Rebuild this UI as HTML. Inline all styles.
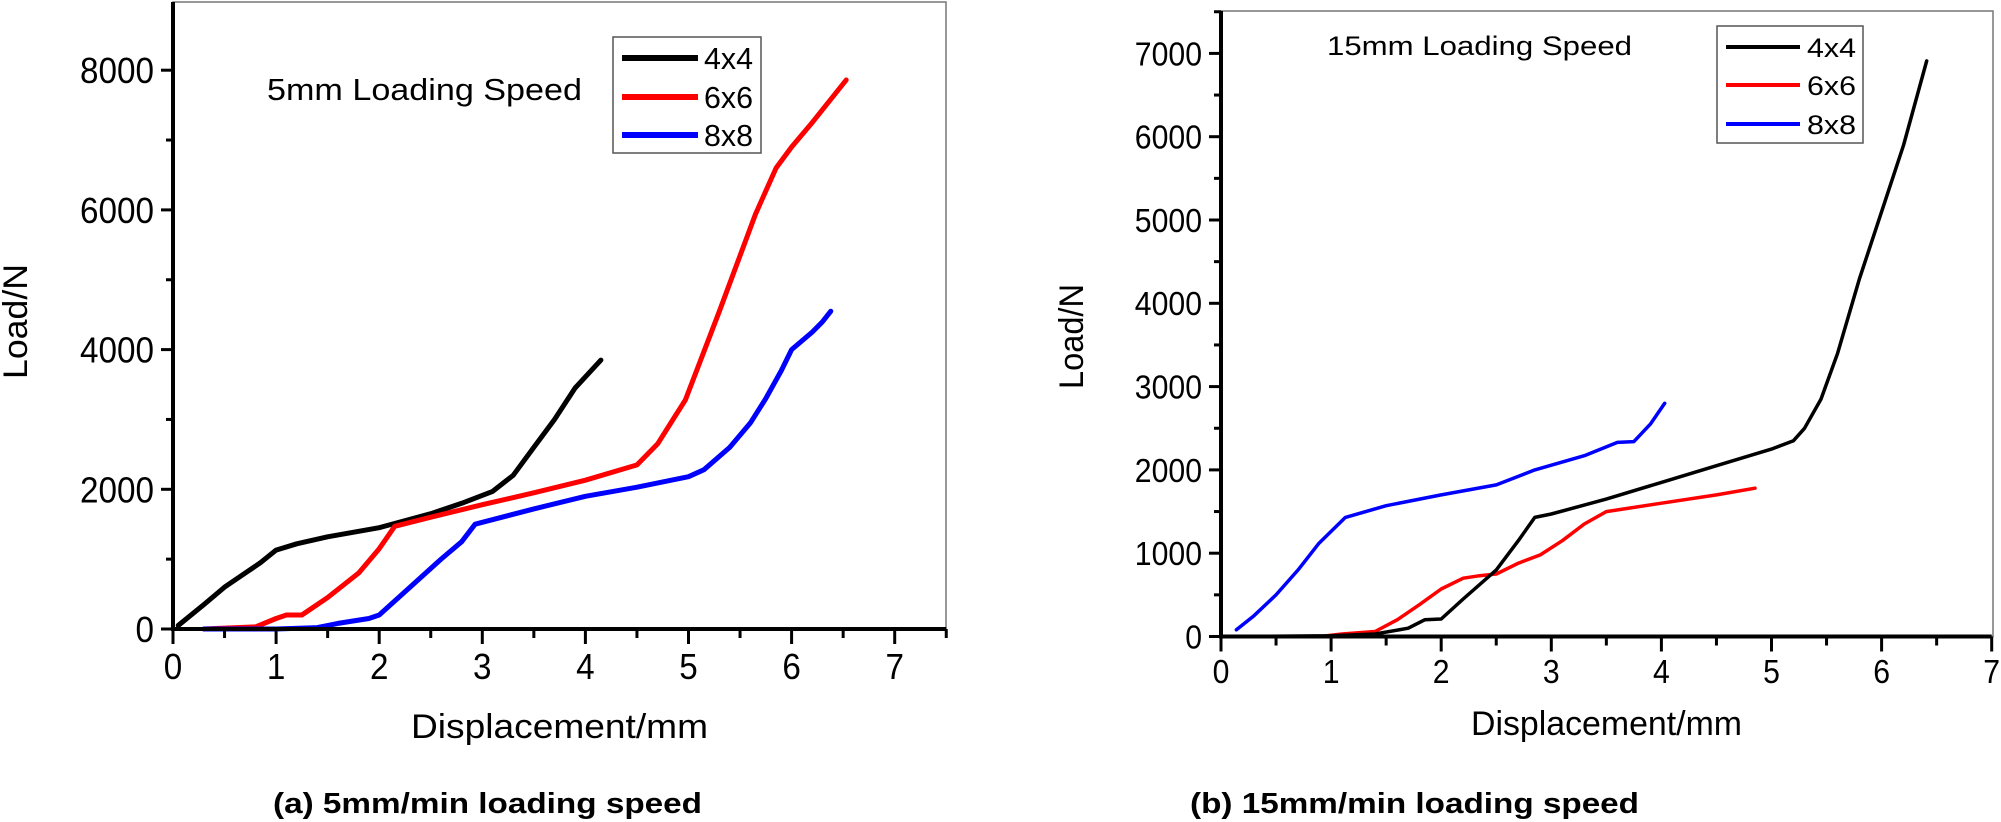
<!DOCTYPE html>
<html><head><meta charset="utf-8">
<style>
html,body{margin:0;padding:0;background:#fff;}
svg{display:block;font-family:"Liberation Sans",sans-serif;}
</style></head>
<body>
<svg id="s" width="2001" height="822" viewBox="0 0 2001 822" xmlns="http://www.w3.org/2000/svg">
<rect width="2001" height="822" fill="#fff"/>
<rect x="173" y="2" width="773" height="627" fill="none" stroke="#777" stroke-width="1.5"/>
<rect x="1221" y="11" width="772" height="625.5" fill="none" stroke="#777" stroke-width="1.5"/>
<g id="g"></g>
<rect x="613" y="37" width="148" height="116" fill="#fff" stroke="#555" stroke-width="1.5"/>
<line x1="622" y1="58" x2="698" y2="58" stroke="#000" stroke-width="6"/>
<line x1="622" y1="97" x2="698" y2="97" stroke="#f00" stroke-width="6"/>
<line x1="622" y1="135" x2="698" y2="135" stroke="#00f" stroke-width="6"/>
<g font-size="31">
<text x="704" y="69" textLength="49" lengthAdjust="spacingAndGlyphs">4x4</text>
<text x="704" y="108" textLength="49" lengthAdjust="spacingAndGlyphs">6x6</text>
<text x="704" y="146" textLength="49" lengthAdjust="spacingAndGlyphs">8x8</text>
<text x="267" y="100" textLength="315" lengthAdjust="spacingAndGlyphs">5mm Loading Speed</text>
</g>
<rect x="1717" y="26" width="146" height="117" fill="#fff" stroke="#555" stroke-width="1.5"/>
<line x1="1726" y1="47" x2="1800" y2="47" stroke="#000" stroke-width="4"/>
<line x1="1726" y1="85" x2="1800" y2="85" stroke="#f00" stroke-width="4"/>
<line x1="1726" y1="124" x2="1800" y2="124" stroke="#00f" stroke-width="4"/>
<g font-size="27">
<text x="1807" y="57" textLength="49" lengthAdjust="spacingAndGlyphs">4x4</text>
<text x="1807" y="95" textLength="49" lengthAdjust="spacingAndGlyphs">6x6</text>
<text x="1807" y="134" textLength="49" lengthAdjust="spacingAndGlyphs">8x8</text>
<text x="1327" y="55" textLength="305" lengthAdjust="spacingAndGlyphs">15mm Loading Speed</text>
</g>
<text x="411" y="738" font-size="34" textLength="297" lengthAdjust="spacingAndGlyphs">Displacement/mm</text>
<text x="1471" y="735" font-size="34" textLength="271" lengthAdjust="spacingAndGlyphs">Displacement/mm</text>
<text transform="translate(27,379) rotate(-90)" font-size="34" textLength="115" lengthAdjust="spacingAndGlyphs">Load/N</text>
<text transform="translate(1083,389) rotate(-90)" font-size="34" textLength="105" lengthAdjust="spacingAndGlyphs">Load/N</text>
<text x="273" y="813" font-size="29" font-weight="bold" textLength="429" lengthAdjust="spacingAndGlyphs">(a) 5mm/min loading speed</text>
<text x="1190" y="813" font-size="29" font-weight="bold" textLength="449" lengthAdjust="spacingAndGlyphs">(b) 15mm/min loading speed</text>
</svg>
<script>
const NS="http://www.w3.org/2000/svg",g=document.getElementById('g');
function el(t,a,txt){const e=document.createElementNS(NS,t);for(const k in a)e.setAttribute(k,a[k]);if(txt!==undefined)e.textContent=txt;g.appendChild(e);return e;}
function chart(c){
 const X=v=>c.x0+v*c.sx, Y=v=>c.y0-v*c.sy;
 c.series.forEach(s=>{el('path',{d:'M'+s.p.map(p=>X(p[0]).toFixed(1)+','+Y(p[1]).toFixed(1)).join('L'),fill:'none',stroke:s.c,'stroke-width':c.lw,'stroke-linejoin':'round','stroke-linecap':'round'});});
 el('line',{x1:c.x0,y1:c.y0,x2:X(c.xmax),y2:c.y0,stroke:'#000','stroke-width':4});
 el('line',{x1:c.x0,y1:c.y0+2,x2:c.x0,y2:c.ytop,stroke:'#000','stroke-width':4});
 for(let v=0;v<=c.xmax+1e-6;v+=0.5){const maj=Math.abs(v-Math.round(v))<1e-6;
  el('line',{x1:X(v),y1:c.y0,x2:X(v),y2:c.y0+(maj?15:9),stroke:'#000','stroke-width':3});
  if(maj&&v<=7)el('text',{x:X(v)-c.dw/2,y:c.xb,'font-size':c.fs,textLength:c.dw,lengthAdjust:'spacingAndGlyphs'},String(Math.round(v)));}
 for(let v=0;Y(v)>=c.ytop-1;v+=c.ystep/2){const maj=(Math.round(v/(c.ystep/2))%2)==0;
  el('line',{x1:c.x0,y1:Y(v),x2:c.x0-(maj?12:7),y2:Y(v),stroke:'#000','stroke-width':3});
  if(maj){const s=String(v),w=c.dw*s.length;el('text',{x:c.x0-19-w,y:Y(v)+c.fs*0.36,'font-size':c.fs,textLength:w,lengthAdjust:'spacingAndGlyphs'},s);}}
}
chart({x0:173,sx:103.1,y0:629,sy:0.06985,xmax:7.5,ytop:2,ystep:2000,lw:5,fs:36,dw:18.5,xb:679,series:[
 {c:'#000',p:[[0.05,50],[0.3,350],[0.5,600],[0.7,800],[0.85,950],[1.0,1130],[1.2,1220],[1.5,1320],[2.0,1450],[2.5,1650],[2.8,1800],[3.1,1970],[3.3,2200],[3.5,2600],[3.7,3000],[3.9,3450],[4.15,3850]]},
 {c:'#f00',p:[[0.3,0],[0.8,30],[1.0,150],[1.1,200],[1.25,200],[1.5,450],[1.8,800],[2.0,1150],[2.15,1470],[2.5,1600],[3,1780],[3.5,1950],[4,2130],[4.5,2350],[4.7,2650],[4.85,3000],[4.97,3280],[5.3,4550],[5.65,5940],[5.85,6600],[6.0,6900],[6.2,7250],[6.53,7860]]},
 {c:'#00f',p:[[0.3,0],[1.0,0],[1.4,20],[1.6,80],[1.9,150],[2.0,200],[2.3,600],[2.6,1000],[2.8,1250],[2.93,1500],[3.5,1720],[4,1900],[4.5,2030],[5,2180],[5.15,2280],[5.4,2600],[5.6,2950],[5.75,3300],[5.9,3700],[6.0,4000],[6.2,4250],[6.3,4400],[6.38,4550]]}
]});
chart({x0:1221,sx:110.1,y0:636.5,sy:0.0833,xmax:7,ytop:11,ystep:1000,lw:3.5,fs:33,dw:16.8,xb:683,series:[
 {c:'#00f',p:[[0.14,80],[0.3,250],[0.5,500],[0.7,800],[0.89,1120],[1.13,1430],[1.5,1570],[2,1700],[2.5,1820],[2.85,2000],[3.3,2170],[3.6,2330],[3.75,2340],[3.9,2550],[4.03,2800]]},
 {c:'#f00',p:[[0.2,0],[0.9,0],[1.1,30],[1.4,60],[1.6,200],[1.8,380],[2.0,570],[2.2,700],[2.35,730],[2.5,750],[2.7,880],[2.9,980],[3.1,1150],[3.3,1350],[3.5,1500],[4,1600],[4.5,1700],[4.85,1780]]},
 {c:'#000',p:[[0.2,0],[1.0,10],[1.4,30],[1.7,100],[1.85,200],[2.0,210],[2.2,450],[2.5,800],[2.7,1150],[2.85,1430],[3.0,1470],[3.5,1650],[4,1850],[4.5,2050],[5.0,2250],[5.2,2350],[5.3,2500],[5.45,2850],[5.6,3400],[5.8,4300],[6.0,5100],[6.2,5900],[6.41,6910]]}
]});
</script>
</body></html>
